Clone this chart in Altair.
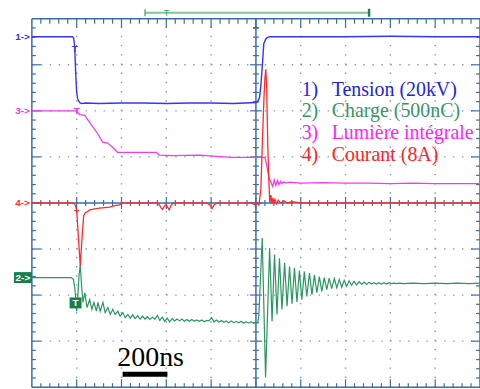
import altair as alt
import pandas as pd
import numpy as np

# ---------------- data (time in ns, value in divisions) ----------------
blue_t = [0, 182, 187, 191, 196, 200, 204, 209, 215, 222, 240, 300, 400, 500, 600, 700, 800, 900,
          1000, 1008, 1016, 1022, 1028, 1035, 1043, 1050, 1061, 1200, 1400, 1600, 1800, 2000]
blue_v = [3.61, 3.61, 3.57, 3.40, 2.77, 2.40, 2.27, 2.21, 2.17, 2.16, 2.17, 2.16, 2.17, 2.17, 2.16, 2.17, 2.17, 2.16,
          2.18, 2.20, 2.29, 2.55, 2.94, 3.46, 3.55, 3.59, 3.61, 3.61, 3.61, 3.62, 3.61, 3.61]

mag_t = [0, 195, 200, 213, 236, 258, 289, 316, 338, 360, 382, 413, 556, 569, 627, 747, 893, 1004, 1040,
         1049, 1058, 1067, 1075, 1082, 1089, 1096, 1103, 1110, 1117, 1124, 1135, 1150, 1200, 1300, 1400,
         1500, 1600, 1700, 1800, 1900, 2000]
mag_v = [2.00, 2.00, 1.99, 1.92, 1.90, 1.75, 1.54, 1.32, 1.30, 1.21, 1.10, 1.10, 1.10, 1.04, 1.03, 1.04, 0.99, 0.99, 0.99,
         0.80, 0.55, 0.45, 0.36, 0.50, 0.38, 0.49, 0.40, 0.47, 0.42, 0.46, 0.43, 0.45, 0.43, 0.44, 0.43,
         0.43, 0.42, 0.43, 0.42, 0.42, 0.42]

red_t = [0, 100, 182, 191, 200, 209, 216, 222, 231, 237, 244, 258, 280, 302, 325, 347, 370, 391, 404,
         450, 500, 560, 569, 576, 583, 594, 600, 607, 613, 620, 627, 640, 700, 780, 791, 798, 806, 811,
         818, 830, 900, 980, 995, 1004, 1013, 1022, 1030, 1036, 1040, 1044, 1048, 1053, 1058, 1062, 1067,
         1071, 1076, 1080, 1085, 1092, 1100, 1110, 1125, 1140, 1160, 1200, 1400, 1600, 1800, 2000]
red_v = [0, 0, 0, -0.02, -0.15, -0.85, -1.36, -0.90, -0.28, -0.22, -0.20, -0.15, -0.13, -0.11, -0.10, -0.09, -0.06, -0.04, 0,
         0, 0, 0, -0.04, -0.10, -0.14, -0.05, -0.04, -0.10, -0.15, -0.06, -0.02, 0, 0, 0, -0.03, -0.07, -0.11, -0.06,
         -0.02, 0, 0, 0, -0.04, 0, -0.05, 0.30, 1.50, 2.30, 2.70, 2.90, 2.50, 1.20, 0.45, 0, 0.17,
         -0.02, 0.11, 0, 0.08, -0.02, 0.06, 0, 0.05, 0, 0.03, 0, 0, 0, 0, 0]

green_t = [0, 100, 176, 185, 191, 196, 200, 205, 210, 216, 222, 228, 236, 246, 258, 268, 277, 288, 295,
           305, 317, 327, 339, 350, 361, 372, 384, 394, 406,
           417, 428, 439, 450, 461, 472, 483, 494, 505, 516, 527, 538, 549, 560, 571, 582, 593, 604,
           615, 626, 637, 648, 659, 670, 681, 692, 703, 714, 725, 736, 747, 758, 769, 780, 791, 802,
           813, 824, 835, 846, 857, 868, 879, 890, 901, 912, 923, 934, 945, 956, 967, 978, 989, 1000,
           1008, 1013, 1028, 1043,
           1061, 1072, 1083, 1094, 1105, 1116, 1128, 1139, 1150, 1161, 1172, 1183, 1194, 1205, 1216,
           1227, 1239, 1250, 1261, 1272, 1283, 1294, 1305, 1316, 1327, 1338, 1350, 1361, 1372, 1383,
           1394, 1405, 1416, 1427, 1438, 1449, 1461, 1472, 1483, 1494, 1505, 1516, 1527, 1538, 1549,
           1560, 1571, 1582, 1594, 1605, 1616, 1627,
           1640, 1660, 1700, 1750, 1800, 1850, 1900, 1950, 2000]
green_v = [-1.62, -1.62, -1.62, -1.66, -1.82, -2.10, -2.35, -2.05, -1.60, -1.34, -1.80, -2.16, -1.95, -2.27, -2.10, -2.31, -2.16, -2.35, -2.16,
           -2.35, -2.16, -2.38, -2.27, -2.42, -2.31, -2.42, -2.35, -2.46, -2.38,
           -2.49, -2.42, -2.50, -2.43, -2.51, -2.45, -2.52, -2.46, -2.52, -2.47, -2.53, -2.48, -2.52, -2.44, -2.55, -2.48, -2.57, -2.50,
           -2.58, -2.51, -2.56, -2.52, -2.56, -2.52, -2.57, -2.53, -2.57, -2.53, -2.57, -2.54, -2.57, -2.54, -2.58, -2.55, -2.56, -2.49,
           -2.58, -2.54, -2.59, -2.55, -2.59, -2.56, -2.60, -2.56, -2.60, -2.57, -2.60, -2.57, -2.61, -2.58, -2.61, -2.58, -2.61, -2.60,
           -2.60, -2.45, -0.76, -3.79,
           -0.98, -2.57, -1.12, -2.42, -1.20, -2.31, -1.30, -2.24, -1.38, -2.19, -1.41, -2.15, -1.47, -2.10, -1.49,
           -2.03, -1.52, -1.99, -1.56, -1.95, -1.60, -1.92, -1.62, -1.88, -1.63, -1.86, -1.64, -1.84, -1.66, -1.83,
           -1.68, -1.81, -1.69, -1.79, -1.70, -1.78, -1.71, -1.77, -1.72, -1.77, -1.72, -1.76, -1.73, -1.76, -1.73,
           -1.76, -1.73, -1.76, -1.73, -1.75, -1.74, -1.75,
           -1.74, -1.75, -1.74, -1.75, -1.74, -1.75, -1.74, -1.75, -1.74]

legend_nums = ["1)", "2)", "3)", "4)"]
legend_labels = ["Tension (20kV)", "Charge (500nC)", "Lumière intégrale", "Courant (8A)"]
channel_tags = ["1->", "2->", "3->", "4->"]
scale_label = "200ns"
scale_span = [405, 605]
trigger_t = 195

# ---------------- styles ----------------
C_BLUE, C_GREEN, C_MAG, C_RED = "#3535f5", "#2b9660", "#f03cf0", "#ff2a2a"
C_TXT = {"1": "#2424dc", "2": "#3a9468", "3": "#ff22ff", "4": "#ff2222"}
C_AXIS, C_GRID = "#3c6da6", "#7a9cc6"

W, H = 450, 370
T0, T1, V0, V1 = 0, 2000, -4, 4
tpp = (T1 - T0) / W
vpp = (V1 - V0) / H
xs = alt.Scale(domain=[T0, T1], nice=False, zero=False)
ys = alt.Scale(domain=[V0, V1], nice=False, zero=False)


def rules(df, **kw):
    return alt.Chart(df).mark_rule(**kw).encode(
        x=alt.X("x:Q", scale=xs, axis=None), x2="x2:Q",
        y=alt.Y("y:Q", scale=ys, axis=None), y2="y2:Q")


def rects(df, **kw):
    return alt.Chart(df).mark_rect(**kw).encode(
        x=alt.X("x:Q", scale=xs, axis=None), x2="x2:Q",
        y=alt.Y("y:Q", scale=ys, axis=None), y2="y2:Q")


def texts(df, **kw):
    enc = dict(x=alt.X("x:Q", scale=xs, axis=None), y=alt.Y("y:Q", scale=ys, axis=None), text="s:N")
    if "c" in df.columns:
        enc["color"] = alt.Color("c:N", scale=None)
    return alt.Chart(df).mark_text(**kw).encode(**enc)


def trace(t, v, color, w=1.3):
    df = pd.DataFrame({"t": t, "v": v, "i": range(len(t))})
    return alt.Chart(df).mark_line(color=color, strokeWidth=w, clip=True).encode(
        x=alt.X("t:Q", scale=xs, axis=None), y=alt.Y("v:Q", scale=ys, axis=None), order="i:Q")


# grid (dotted)
vg = [T0 + 200 * k for k in range(1, 10) if k != 5]
hg = [v for v in range(-3, 4) if v != 0]
grid_v = pd.DataFrame({"x": vg, "x2": vg, "y": [V0] * len(vg), "y2": [V1] * len(vg)})
grid_h = pd.DataFrame({"x": [T0] * len(hg), "x2": [T1] * len(hg), "y": hg, "y2": hg})

# frame and centre axes
frame = pd.DataFrame({
    "x": [T0, T0, T0, T1, 1000, T0],
    "x2": [T0, T1, T1, T1, 1000, T1],
    "y": [V0, V1, V0, V0, V0, 0],
    "y2": [V1, V1, V0, V1, V1, 0]})

# graticule ticks
rows = []
for k in range(1, 40):
    v = V0 + 0.2 * k
    major = k % 5 == 0
    L = 9 if major else 4
    rows.append((T0, T0 + L * tpp, v, v))
    rows.append((T1 - L * tpp, T1, v, v))
    h = 6 if major else 3
    rows.append((1000 - h * tpp, 1000 + h * tpp, v, v))
for k in range(1, 50):
    t = T0 + 40 * k
    major = k % 5 == 0
    L = 9 if major else 5
    rows.append((t, t, V1 - L * vpp, V1))
    rows.append((t, t, V0, V0 + (L - 1) * vpp))
    h = 6 if major else 3
    rows.append((t, t, -h * vpp, h * vpp))
ticks = pd.DataFrame(rows, columns=["x", "x2", "y", "y2"])
marker = pd.DataFrame({"x": [1000 - 3 * tpp], "x2": [1000 + 3 * tpp], "y": [V1 - 9 * vpp], "y2": [V1 - 9 * vpp]})

# top bracket
br_v = V1 + 6 * vpp
bracket = pd.DataFrame({"x": [505], "x2": [1505], "y": [br_v], "y2": [br_v]})
br_left = pd.DataFrame({"x": [505], "x2": [505], "y": [br_v - 3.5 * vpp], "y2": [br_v + 3.5 * vpp]})
br_right = pd.DataFrame({"x": [1505], "x2": [1505], "y": [br_v - 4 * vpp], "y2": [br_v + 4 * vpp]})
br_T = pd.DataFrame({"x": [601], "y": [br_v], "s": ["T"]})

# channel tags on the left
tag_x = T0 - 2 * tpp
tags = pd.DataFrame({"x": [tag_x] * 3, "y": [blue_v[0], mag_v[0], red_v[0]],
                     "s": [channel_tags[0], channel_tags[2], channel_tags[3]],
                     "c": [C_BLUE, C_MAG, C_RED]})
box2 = pd.DataFrame({"x": [T0 - 18 * tpp], "x2": [T0], "y": [green_v[0] - 5.5 * vpp], "y2": [green_v[0] + 5.5 * vpp]})
tag2 = pd.DataFrame({"x": [T0 - 9 * tpp], "y": [green_v[0]], "s": [channel_tags[1]]})

# trigger markers
trig = pd.DataFrame({"x": [trigger_t - 4, trigger_t + 5, trigger_t + 5],
                     "y": [3.35, 2.0, -0.17], "s": ["T", "T", "+"], "c": [C_BLUE, C_MAG, C_RED]})
tbox = pd.DataFrame({"x": [trigger_t - 6 * tpp], "x2": [trigger_t + 6 * tpp], "y": [-2.17 - 5.5 * vpp], "y2": [-2.17 + 5.5 * vpp]})
tbox_t = pd.DataFrame({"x": [trigger_t], "y": [-2.17], "s": ["T"]})

# legend
lg_y = [2.46 - 0.47 * i for i in range(4)]
lg_c = [C_TXT["1"], C_TXT["2"], C_TXT["3"], C_TXT["4"]]
lg_num = pd.DataFrame({"x": [1204] * 4, "y": lg_y, "s": legend_nums, "c": lg_c})
lg_lab = pd.DataFrame({"x": [1338] * 4, "y": lg_y, "s": legend_labels, "c": lg_c})

# scale bar
sb = pd.DataFrame({"x": [scale_span[0]], "x2": [scale_span[1]], "y": [-3.72], "y2": [-3.72]})
sb_txt = pd.DataFrame({"x": [sum(scale_span) / 2 + 25], "y": [-3.54], "s": [scale_label]})

layers = [
    rules(grid_v, color=C_GRID, strokeWidth=1.4, strokeDash=[1.4, 7.85]),
    rules(grid_h, color=C_GRID, strokeWidth=1.4, strokeDash=[1.4, 7.6]),
    rules(ticks, color=C_AXIS, strokeWidth=1.2),
    rules(frame, color=C_AXIS, strokeWidth=1.5),
    rules(marker, color=C_AXIS, strokeWidth=1.5),
    rules(bracket, color="#7cc79c", strokeWidth=2),
    rules(br_left, color="#3f9a68", strokeWidth=1.2),
    rules(br_right, color="#2e7d4f", strokeWidth=2.5),
    texts(br_T, color="#3f9a68", fontSize=9, font="Liberation Sans", baseline="middle"),
    texts(lg_num, fontSize=20, font="Liberation Serif", align="left", baseline="middle"),
    texts(lg_lab, fontSize=20, font="Liberation Serif", align="left", baseline="middle"),
    trace(blue_t, blue_v, C_BLUE, 1.4),
    trace(mag_t, mag_v, C_MAG, 1.3),
    trace(green_t, green_v, C_GREEN, 1.2),
    trace(red_t, red_v, C_RED, 1.3),
    texts(tags, fontSize=10, fontWeight="bold", font="Liberation Sans", align="right", baseline="middle"),
    rects(box2, color="#17804a"),
    texts(tag2, color="white", fontSize=10, fontWeight="bold", font="Liberation Sans", baseline="middle"),
    texts(trig, fontSize=10, fontWeight="bold", font="Liberation Sans", baseline="middle"),
    rects(tbox, color="#17804a"),
    texts(tbox_t, color="white", fontSize=10, fontWeight="bold", font="Liberation Sans", baseline="middle"),
    rules(sb, color="black", strokeWidth=5),
    texts(sb_txt, color="black", fontSize=28, font="Liberation Serif", baseline="alphabetic"),
]

chart = alt.layer(*layers).properties(
    width=W, height=H,
    autosize=alt.AutoSizeParams(type="none"),
    padding={"left": 32, "top": 18, "right": 0, "bottom": 0},
    background="white",
).configure_view(stroke=None)

chart.save("out.html", embed_options={"renderer": "svg", "actions": False})
